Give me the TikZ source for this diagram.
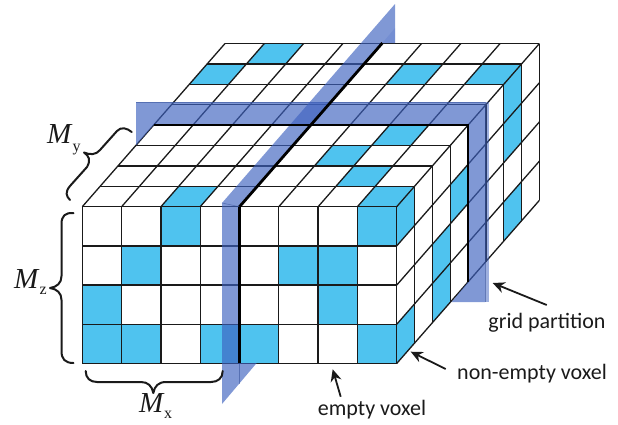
\documentclass[tikz,border=0pt]{standalone}
\usepackage{fontspec}
\setmainfont{Liberation Serif}
\newfontfamily\labelfont{Carlito}
\usetikzlibrary{arrows.meta}
\definecolor{voxel}{HTML}{4FC3EF}
\definecolor{plane}{HTML}{3E62C0}
\definecolor{inkc}{HTML}{1A1A1A}
\tikzset{
  gridline/.style={draw=inkc,line width=1.3pt,line join=miter},
  cellfill/.style={fill=voxel,draw=none},
  partition/.style={draw=black,line width=2.8pt,line cap=butt},
  planefill/.style={fill=plane,fill opacity=.66,draw=none},
  planeedge/.style={draw=plane!75!black,line width=.6pt,opacity=.5},
  bracket/.style={draw=inkc,line width=2pt,line cap=round,line join=round},
  pointer/.style={draw=inkc,line width=1.8pt,-{Stealth[length=12pt,width=11pt]}},
  caption/.style={inner sep=0pt,font=\labelfont\fontsize{22}{24}\selectfont,text=inkc},
  mathlabel/.style={inner sep=0pt,anchor=base west,font=\fontsize{29}{31}\selectfont\itshape,text=inkc},
  sublabel/.style={inner sep=0pt,anchor=base west,font=\fontsize{16}{17}\selectfont,text=inkc}
}
\def\Ox{82.3}\def\Oy{206.7}\def\Sx{39.3}\def\Sz{39.2}\def\Dx{17.84}\def\Dy{-20.4}
\begin{document}
\begin{tikzpicture}[x=1pt,y=-1pt]
\useasboundingbox (0,0) rectangle (618,424);
\newcommand{\frontcell}[2]{%
  \fill[cellfill] ({\Ox+#1*\Sx},{\Oy+#2*\Sz}) rectangle ++(\Sx,\Sz);}
\newcommand{\topcell}[2]{%
  \fill[cellfill] ({\Ox+#1*\Sx+#2*\Dx},{\Oy+#2*\Dy}) -- ++(\Sx,0) -- ++(\Dx,\Dy) -- ++(-\Sx,0) -- cycle;}
\newcommand{\rightcell}[2]{%
  \fill[cellfill] ({\Ox+8*\Sx+#1*\Dx},{\Oy+#1*\Dy+#2*\Sz}) -- ++(\Dx,\Dy) -- ++(0,\Sz) -- ++(-\Dx,-\Dy) -- cycle;}
% voxels
\foreach \c/\r in {2/0,7/0,1/1,5/1,6/1,0/2,6/2,0/3,1/3,3/3,4/3,7/3}{\frontcell{\c}{\r}}
\foreach \c/\d in {2/0,7/0,6/1,5/2,6/3,0/6,5/6,7/6,1/7}{\topcell{\c}{\d}}
\foreach \d/\k in {0/0,0/3,2/2,2/3,3/1,6/0,6/1,6/3}{\rightcell{\d}{\k}}
% grid: front face
\foreach \i in {0,...,8}{\draw[gridline] ({\Ox+\i*\Sx},\Oy) -- ++(0,{4*\Sz});}
\foreach \k in {0,...,4}{\draw[gridline] (\Ox,{\Oy+\k*\Sz}) -- ++({8*\Sx},0);}
% grid: top face
\foreach \i in {0,...,8}{\draw[gridline] ({\Ox+\i*\Sx},\Oy) -- ++({8*\Dx},{8*\Dy});}
\foreach \d in {1,...,8}{\draw[gridline] ({\Ox+\d*\Dx},{\Oy+\d*\Dy}) -- ++({8*\Sx},0);}
% grid: right face
\foreach \d in {1,...,8}{\draw[gridline] ({\Ox+8*\Sx+\d*\Dx},{\Oy+\d*\Dy}) -- ++(0,{4*\Sz});}
\foreach \k in {1,...,4}{\draw[gridline] ({\Ox+8*\Sx},{\Oy+\k*\Sz}) -- ++({8*\Dx},{8*\Dy});}
% partition planes
\coordinate (hA) at (136,102);
\coordinate (hB) at (485,102);
\coordinate (hC) at (485,302);
\coordinate (hD) at (451.7,302);
\coordinate (hE) at (468,125);
\coordinate (hF) at (153.7,125);
\coordinate (hG) at (136,145.4);
\coordinate (hH) at (468,282);
\fill[planefill] (hA) -- (hB) -- (hC) -- (hD) -- (hH) -- (hE) -- (hF) -- (hG) -- cycle;
\fill[plane,fill opacity=.5] (485,102) rectangle (489,302);
\draw[planeedge] (hA) -- (hB) -- (hC);
\coordinate (vA) at (222,203);
\coordinate (vB) at (395,4);
\coordinate (vC) at (395,43);
\coordinate (vD) at (382.4,43);
\coordinate (vE) at (239.5,206.7);
\coordinate (vF) at (239.5,363);
\coordinate (vG) at (256.7,363);
\coordinate (vH) at (222,404);
\fill[planefill] (vA) -- (vB) -- (vC) -- (vD) -- (vE) -- (vF) -- (vG) -- (vH) -- cycle;
\fill[plane,fill opacity=.18] (vD) -- (395,28) -- (vC) -- cycle;
\draw[planeedge] (vE) -- (vA);
\draw[planeedge] (vF) -- (239.5,384);
% partition lines
\draw[partition,line join=miter] (vE) -- (vD);
\draw[partition] (vE) -- (vF);
\draw[partition,line join=miter] (hF) -- (hE) -- (hH);
% braces
\draw[bracket] (73.5,213) .. controls (65,212.5) and (61.5,216) .. (61.5,224) -- (61.5,276)
  .. controls (61.5,283) and (57,287) .. (50,288) .. controls (57,289) and (61.5,293) .. (61.5,300)
  -- (61.5,351) .. controls (61.5,359) and (65,363) .. (73.5,363);
\draw[bracket] (85.7,371) .. controls (85.7,378) and (90,382) .. (97,382) -- (141,382)
  .. controls (148,382) and (152,386) .. (153.3,393) .. controls (154.6,386) and (158.6,382) .. (166,382)
  -- (211,382) .. controls (218,382) and (222.7,378) .. (222.7,371);
\draw[bracket] (131.7,132) .. controls (127,128) and (121,126.5) .. (117,131) -- (100,150)
  .. controls (96,155) and (90,155) .. (84,152.5) .. controls (89,156) and (91,160) .. (87,167)
  -- (70,186) .. controls (65,192) and (66,196) .. (70,200);
% maths labels
\node[mathlabel] (my) at (47,143.5) {M};
\node[sublabel] (mys) at (72.5,151) {y};
\node[mathlabel] (mz) at (14,288) {M};
\node[sublabel] (mzs) at (39.5,294) {z};
\node[mathlabel] (mx) at (139,412) {M};
\node[sublabel] (mxs) at (164,418) {x};
% captions and pointers
\node[caption] (grid) at (547,322.5) {grid partition};
\node[caption] (nonempty) at (532,373.5) {non-empty voxel};
\node[caption] (empty) at (372,410) {empty voxel};
\coordinate (gridTail) at (546.7,305);
\coordinate (gridTip) at (492.7,283);
\coordinate (nonTail) at (445.7,369);
\coordinate (nonTip) at (410.7,351.7);
\coordinate (emptyTail) at (340.7,396.7);
\coordinate (emptyTip) at (332.7,369.3);
\draw[pointer] (gridTail) -- (gridTip);
\draw[pointer] (nonTail) -- (nonTip);
\draw[pointer] (emptyTail) -- (emptyTip);
\end{tikzpicture}
\end{document}
